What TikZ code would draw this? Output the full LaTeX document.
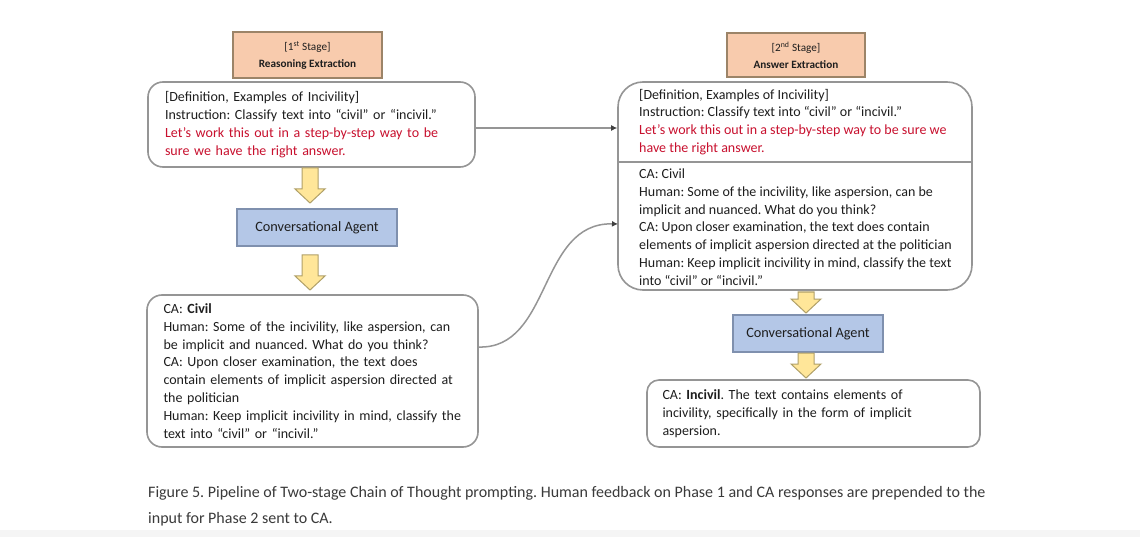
\documentclass[tikz,border=0pt]{standalone}
\usepackage{fontspec}
\setmainfont{Carlito}
\usetikzlibrary{arrows.meta,calc}
\definecolor{peach}{HTML}{F8CBAD}
\definecolor{peachline}{HTML}{9C8468}
\definecolor{cablue}{HTML}{B4C7E7}
\definecolor{caline}{HTML}{7F90AE}
\definecolor{yfill}{HTML}{FFE699}
\definecolor{yline}{HTML}{B0A068}
\definecolor{boxline}{HTML}{959595}
\definecolor{redtxt}{HTML}{C8102E}
\definecolor{txt}{HTML}{1E1E1E}
\definecolor{captxt}{HTML}{3A3A3A}
\newcommand{\yarrowshape}[3]{%
  \draw[yarrow] (#1-8,#2) -- (#1+8,#2) -- (#1+8,#3-14) -- (#1+15,#3-14) -- (#1,#3) -- (#1-15,#3-14) -- (#1-8,#3-14) -- cycle;}
\begin{document}
\frenchspacing
\begin{tikzpicture}[x=1pt,y=-1pt,
  every node/.style={text=txt},
  maintext/.style={font=\fontsize{14}{17.8}\selectfont\frenchspacing, align=left},
  stagebox/.style={draw=peachline, line width=1.6pt, fill=peach, align=center,
     font=\fontsize{11.2}{17}\selectfont, inner sep=0pt},
  cabox/.style={draw=caline, line width=1.6pt, fill=cablue, align=center,
     font=\fontsize{14.3}{16}\selectfont, inner sep=0pt},
  roundbox/.style={draw=boxline, line width=1.6pt, fill=white, inner sep=0pt},
  yarrow/.style={draw=yline, line width=1pt, fill=yfill, line join=miter},
  link/.style={draw=boxline, line width=1.5pt, -{Latex[length=6pt,width=6pt,black!75]}}
]
\useasboundingbox (0,0) rectangle (1140,537);
\fill[white] (0,0) rectangle (1140,537);
\fill[black!4] (0,530) rectangle (1140,537);

% stage headers
\node[stagebox, minimum width=149, minimum height=46] (s1) at (307.5,55)
  {[1\textsuperscript{st} Stage]\\\textbf{Reasoning Extraction}};
\node[stagebox, minimum width=138, minimum height=44] (s2) at (796,55)
  {[2\textsuperscript{nd} Stage]\\\textbf{Answer Extraction}};

% left column
\node[roundbox, rounded corners=15pt, minimum width=327, minimum height=85, maintext,
      text width=293] (b1) at (311.5,124.5)
  {[Definition, Examples of Incivility]\\
   Instruction: Classify text into ``civil'' or ``incivil.''\\
   \textcolor{redtxt}{Let's work this out in a step-by-step way to be}\\
   \textcolor{redtxt}{sure we have the right answer.}};

\node[cabox, minimum width=160, minimum height=37] (ca1) at (317,227.5) {Conversational Agent};

\node[roundbox, rounded corners=15pt, minimum width=331, minimum height=152, maintext,
      text width=298] (b2) at (312.5,371)
  {CA: \textbf{Civil}\\
   Human: Some of the incivility, like aspersion, can\\
   be implicit and nuanced. What do you think?\\
   CA: Upon closer examination, the text does\\
   contain elements of implicit aspersion directed at\\
   the politician\\
   Human: Keep implicit incivility in mind, classify the\\
   text into ``civil'' or ``incivil.''};

% right column
\node[roundbox, rounded corners=25pt, minimum width=354, minimum height=208] (b3) at (795,186) {};
\coordinate (d1) at (618,162);
\coordinate (d2) at (972,162);
\draw[boxline, line width=1.6pt] (d1) -- (d2);
\node[maintext, inner sep=0pt, anchor=west] (b3top) at (639,122)
  {[Definition, Examples of Incivility]\\
   Instruction: Classify text into ``civil'' or ``incivil.''\\
   \textcolor{redtxt}{Let's work this out in a step-by-step way to be sure we}\\
   \textcolor{redtxt}{have the right answer.}};
\node[maintext, inner sep=0pt, anchor=west] (b3bot) at (639,227)
  {CA: Civil\\
   Human: Some of the incivility, like aspersion, can be\\
   implicit and nuanced. What do you think?\\
   CA: Upon closer examination, the text does contain\\
   elements of implicit aspersion directed at the politician\\
   Human: Keep implicit incivility in mind, classify the text\\
   into ``civil'' or ``incivil.''};

\node[cabox, minimum width=150, minimum height=37] (ca2) at (808,333.5) {Conversational Agent};

\node[roundbox, rounded corners=12pt, minimum width=333, minimum height=67, maintext,
      text width=302] (b4) at (813.5,413.5)
  {CA: \textbf{Incivil}. The text contains elements of\\
   incivility, specifically in the form of implicit\\
   aspersion.};

% block arrows
\yarrowshape{310}{168}{203}
\yarrowshape{310}{255}{290}
\yarrowshape{806}{292}{313}
\yarrowshape{806}{353}{378}

% connectors
\draw[link] ([yshift=-3.5pt]b1.east) -- ([yshift=-3.5pt]b1.east -| b3.west);
\coordinate (c1) at (478,347);
\coordinate (c2) at (618,224);
\draw[link] (c1) .. controls (552,350) and (538,222) .. (c2);

% caption
\node[anchor=north west, inner sep=0pt, align=left, text=captxt,
      font=\fontsize{16}{26}\selectfont] (cap) at (148,486)
  {Figure 5. Pipeline of Two-stage Chain of Thought prompting. Human feedback on Phase 1 and CA responses are prepended to the\\
   input for Phase 2 sent to CA.};
\end{tikzpicture}
\end{document}
